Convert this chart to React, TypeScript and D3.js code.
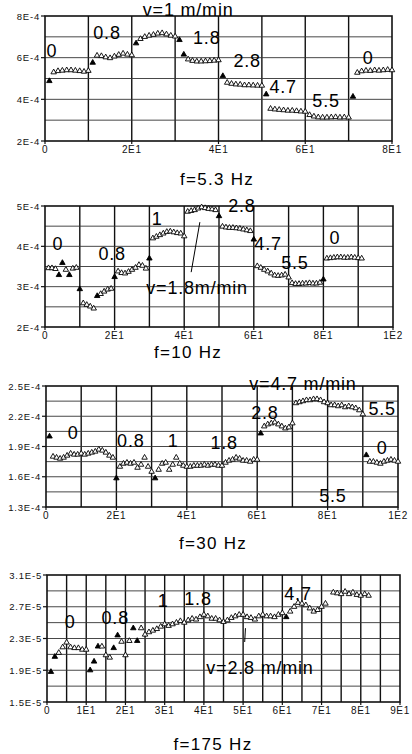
import React, { useEffect, useRef } from "react";
import * as d3 from "d3";

// readings are one per x step, starting at x = 1; null = no point
// f=5.3 Hz, units of 1E-4
const p1Vals = [
  4.88, 5.3, 5.36, 5.38, 5.4, 5.4, 5.38, 5.36, 5.33, 5.37,
  5.76, 6.1, 6.08, 6.02, 5.98, 6.06, 6.14, 6.2, 6.15, 6.12,
  6.69, 6.9, 7.0, 7.06, 7.1, 7.16, 7.18, 7.12, 7.06, 7.02,
  6.85, 6.15, 5.92, 5.85, 5.82, 5.82, 5.83, 5.84, 5.86, 5.88,
  5.12, 4.8, 4.75, 4.72, 4.71, 4.68, 4.68, 4.67, 4.66, 4.66,
  4.24, 3.55, 3.52, 3.5, 3.48, 3.46, 3.46, 3.44, 3.42, 3.41,
  3.25, 3.18, 3.14, 3.13, 3.13, 3.14, 3.15, 3.13, 3.14, 3.13,
  4.13, 5.28, 5.35, 5.38, 5.37, 5.4, 5.38, 5.4, 5.42, 5.4,
];
const p1Filled = [1, 11, 21, 31, 32, 41, 51, 71];
const p1XTicks = [0, 20, 40, 60, 80];
const p1XText = ["0", "2E1", "4E1", "6E1", "8E1"];
const p1YTicks = [2, 4, 6, 8];
const p1YText = ["2E-4", "4E-4", "6E-4", "8E-4"];
const p1Notes: [string, number, number][] = [
  ["0", 1.6, 6.05], ["0.8", 14.3, 6.9], ["1.8", 37.3, 6.66], ["2.8", 46.6, 5.56],
  ["4.7", 54.9, 4.31], ["5.5", 64.8, 3.64], ["0", 74.5, 5.7], ["v=1 m/min", 33, 8.0],
];

// f=10 Hz, units of 1E-4
const p2Vals = [
  3.46, 3.46, 3.44, 3.29, 3.59, 3.42, 3.29, 3.45, 3.47,
  2.94, 2.59, 2.55, 2.51, 2.46,
  2.77, 2.82, 2.88, 2.93, 2.95,
  3.24, 3.38, 3.34, 3.33, 3.37, 3.42, 3.47, 3.54, 3.52, 3.45,
  3.7, 4.2, 4.24, 4.28, 4.32, 4.36, 4.37, 4.35, 4.33, 4.32, 4.25,
  4.86, 4.88, 4.9, 4.94, 4.97, 4.95, 4.93, 4.92, 4.9, 4.75,
  4.49, 4.47, 4.46, 4.46, 4.45, 4.44, 4.42, 4.4, 4.38, 4.17,
  3.51, 3.47, 3.42, 3.38, 3.33, 3.28, 3.27, 3.28, 3.3, 3.23,
  3.09, 3.07, 3.07, 3.08, 3.08, 3.09, 3.08, 3.08, 3.1, 3.18,
  3.7, 3.71, 3.72, 3.73, 3.73, 3.72, 3.72, 3.73, 3.72, 3.71, 3.7,
];
const p2Filled = [4, 5, 7, 10, 15, 20, 30, 50, 60, 80];
const p2XTicks = [0, 20, 40, 60, 80, 100];
const p2XText = ["0", "2E1", "4E1", "6E1", "8E1", "1E2"];
const p2YTicks = [2, 3, 4, 5];
const p2YText = ["2E-4", "3E-4", "4E-4", "5E-4"];
const p2Notes: [string, number, number][] = [
  ["0", 3.7, 3.91], ["0.8", 19.3, 3.67], ["1", 32.2, 4.53], ["2.8", 56.6, 4.86],
  ["4.7", 64.1, 3.91], ["5.5", 71.8, 3.44], ["0", 83.3, 4.06], ["v=1.8m/min", 43.7, 2.82],
];
const p2Pointer = [[44.5, 4.6], [42, 3.36]];

// f=30 Hz, units of 1E-4
const p3Vals = [
  2.0, 1.8, 1.79, 1.78, 1.79, 1.81, 1.83, 1.82, 1.82, 1.83,
  1.82, 1.83, 1.84, 1.85, 1.87, 1.86, 1.84, 1.81, 1.79, 1.585,
  1.7, 1.73, 1.74, 1.73, 1.74, 1.69, 1.72, 1.79, 1.7, 1.65,
  1.585, 1.67, 1.73, 1.74, 1.67, 1.72, 1.79, 1.73, 1.71, 1.7,
  1.7, 1.71, 1.71, 1.71, 1.72, 1.71, 1.72, 1.72, 1.71, 1.71,
  1.74, 1.76, 1.77, 1.79, 1.78, 1.76, 1.76, 1.75, 1.77, 1.77,
  2.03, 2.1, 2.12, 2.13, 2.14, 2.12, 2.1, 2.08, 2.09, 2.13,
  2.33, 2.34, 2.35, 2.36, 2.36, 2.37, 2.37, 2.36, 2.34, 2.33,
  2.31, 2.31, 2.3, 2.31, 2.29, 2.3, 2.29, 2.28, 2.26, 2.22,
  1.815, 1.75, 1.75, 1.74, 1.73, 1.75, 1.76, 1.77, 1.76, 1.75,
];
const p3Filled = [1, 20, 31, 61, 91];
const p3XTicks = [0, 20, 40, 60, 80, 100];
const p3XText = ["0", "2E1", "4E1", "6E1", "8E1", "1E2"];
const p3YTicks = [1.3, 1.6, 1.9, 2.2, 2.5];
const p3YText = ["1.3E-4", "1.6E-4", "1.9E-4", "2.2E-4", "2.5E-4"];
const p3Notes: [string, number, number][] = [
  ["v=4.7 m/min", 73, 2.465], ["2.8", 62.2, 2.172], ["5.5", 95.5, 2.212], ["0", 7.7, 1.972],
  ["0.8", 24.1, 1.897], ["1", 36.1, 1.897], ["1.8", 50.6, 1.877], ["0", 95.5, 1.827],
  ["5.5", 81.5, 1.352],
];

// f=175 Hz, units of 1E-5
const p4Vals = [
  1.88, 2.07, 2.12, 2.19, 2.25, 2.19, 2.18, 2.18, 2.16, 2.16,
  1.9, 2.01, 2.2, 2.2, 2.09, 2.06, 2.18, 2.34, 2.26, 2.09,
  2.27, 2.43, 2.27, 2.43, 2.35, 2.38, 2.4, 2.42, 2.45, 2.48,
  2.46, 2.48, 2.5, 2.52, 2.5, 2.53, 2.55, 2.54, 2.57, 2.6,
  2.58, 2.55, 2.55, 2.53, 2.51, 2.53, 2.56, 2.58, 2.6, 2.6,
  2.57, 2.56, 2.54, 2.58, 2.6, 2.58, 2.58, 2.57, 2.6, 2.62,
  2.57, 2.64, 2.7, 2.75, 2.74, 2.72, 2.68, 2.64, 2.66, 2.7,
  2.74, null, 2.88, 2.87, 2.86, 2.89, 2.86, 2.88, 2.85, 2.84,
  2.86, 2.84,
];
const p4Filled = [1, 2, 11, 12, 13, 17, 18, 22, 23, 61];
const p4XTicks = [0, 10, 20, 30, 40, 50, 60, 70, 80, 90];
const p4XText = ["0", "1E1", "2E1", "3E1", "4E1", "5E1", "6E1", "7E1", "8E1", "9E1"];
const p4YTicks = [1.5, 1.9, 2.3, 2.7, 3.1];
const p4YText = ["1.5E-5", "1.9E-5", "2.3E-5", "2.7E-5", "3.1E-5"];
const p4Notes: [string, number, number][] = [
  ["0", 5.9, 2.435], ["0.8", 17.4, 2.485], ["1", 29.6, 2.7], ["1.8", 38.5, 2.725],
  ["4.7", 64, 2.79], ["v=2.8 m/min", 54.3, 1.855],
];
const p4Pointer = [[50.6, 2.43], [50.4, 2.256]];

const NOTE_FONT = "'Liberation Sans', Arial, sans-serif";

const panels = [
  { vals: p1Vals, filled: p1Filled, xTicks: p1XTicks, xText: p1XText, yTicks: p1YTicks, yText: p1YText,
    notes: p1Notes, pointer: null, left: 45, right: 392, top: 16, bottom: 141, xMax: 80, yMin: 2, yMax: 8,
    xStep: 10, yStep: 1, caption: "f=5.3 Hz", capX: 217, capY: 185 },
  { vals: p2Vals, filled: p2Filled, xTicks: p2XTicks, xText: p2XText, yTicks: p2YTicks, yText: p2YText,
    notes: p2Notes, pointer: p2Pointer, left: 45, right: 393, top: 206, bottom: 327, xMax: 100, yMin: 2, yMax: 5,
    xStep: 10, yStep: 0.5, caption: "f=10 Hz", capX: 188, capY: 358 },
  { vals: p3Vals, filled: p3Filled, xTicks: p3XTicks, xText: p3XText, yTicks: p3YTicks, yText: p3YText,
    notes: p3Notes, pointer: null, left: 46, right: 398, top: 386, bottom: 507, xMax: 100, yMin: 1.3, yMax: 2.5,
    xStep: 10, yStep: 0.15, caption: "f=30 Hz", capX: 213, capY: 549 },
  { vals: p4Vals, filled: p4Filled, xTicks: p4XTicks, xText: p4XText, yTicks: p4YTicks, yText: p4YText,
    notes: p4Notes, pointer: p4Pointer, left: 47, right: 400, top: 575, bottom: 702, xMax: 90, yMin: 1.5, yMax: 3.1,
    xStep: 5, yStep: 0.2, caption: "f=175 Hz", capX: 213, capY: 750 },
];

function drawPanel(svg: any, p: any) {
  const x = d3.scaleLinear().domain([0, p.xMax]).range([p.left, p.right]);
  const y = d3.scaleLinear().domain([p.yMin, p.yMax]).range([p.bottom, p.top]);
  const g = svg.append("g");

  // grid, vertical lines are heavier in the print
  const nx = Math.round(p.xMax / p.xStep);
  const ny = Math.round((p.yMax - p.yMin) / p.yStep);
  g.selectAll(".vg")
    .data(d3.range(1, nx))
    .enter()
    .append("line")
    .attr("x1", (i: number) => x(i * p.xStep))
    .attr("x2", (i: number) => x(i * p.xStep))
    .attr("y1", p.top)
    .attr("y2", p.bottom)
    .attr("stroke", "#111")
    .attr("stroke-width", 1.4);
  g.selectAll(".hg")
    .data(d3.range(1, ny))
    .enter()
    .append("line")
    .attr("x1", p.left)
    .attr("x2", p.right)
    .attr("y1", (i: number) => y(p.yMin + i * p.yStep))
    .attr("y2", (i: number) => y(p.yMin + i * p.yStep))
    .attr("stroke", "#333")
    .attr("stroke-width", 0.9);
  g.append("rect")
    .attr("x", p.left)
    .attr("y", p.top)
    .attr("width", p.right - p.left)
    .attr("height", p.bottom - p.top)
    .attr("fill", "none")
    .attr("stroke", "#111")
    .attr("stroke-width", 1.6);

  // ticks and labels
  g.selectAll(".yt")
    .data(p.yTicks)
    .enter()
    .append("line")
    .attr("x1", p.left - 4)
    .attr("x2", p.left)
    .attr("y1", (d: number) => y(d))
    .attr("y2", (d: number) => y(d))
    .attr("stroke", "#111")
    .attr("stroke-width", 1.2);
  g.selectAll(".ytl")
    .data(p.yTicks)
    .enter()
    .append("text")
    .attr("x", p.left - 5)
    .attr("y", (d: number) => y(d) + 3.5)
    .attr("text-anchor", "end")
    .attr("font-family", NOTE_FONT)
    .attr("font-size", 9.5)
    .attr("letter-spacing", 0.8)
    .attr("fill", "#111")
    .text((d: number, i: number) => p.yText[i]);
  g.selectAll(".xt")
    .data(p.xTicks)
    .enter()
    .append("line")
    .attr("x1", (d: number) => x(d))
    .attr("x2", (d: number) => x(d))
    .attr("y1", p.bottom)
    .attr("y2", p.bottom + 3)
    .attr("stroke", "#111")
    .attr("stroke-width", 1.2);
  g.selectAll(".xtl")
    .data(p.xTicks)
    .enter()
    .append("text")
    .attr("x", (d: number) => x(d))
    .attr("y", p.bottom + 12)
    .attr("text-anchor", "middle")
    .attr("font-family", NOTE_FONT)
    .attr("font-size", 10)
    .attr("letter-spacing", 0.6)
    .attr("fill", "#111")
    .text((d: number, i: number) => p.xText[i]);

  // readings
  const pts = p.vals
    .map((v: number | null, i: number) => ({ x: i + 1, v, filled: p.filled.includes(i + 1) }))
    .filter((d: any) => d.v !== null);
  const tri = d3.symbol().type(d3.symbolTriangle).size(13);
  g.selectAll(".pt")
    .data(pts)
    .enter()
    .append("path")
    .attr("d", tri)
    .attr("transform", (d: any) => "translate(" + x(d.x) + "," + y(d.v) + ")")
    .attr("fill", (d: any) => (d.filled ? "#000" : "#fff"))
    .attr("stroke", "#000")
    .attr("stroke-width", 0.9);

  // speed annotations
  g.selectAll(".note")
    .data(p.notes)
    .enter()
    .append("text")
    .attr("x", (d: any) => x(d[1]))
    .attr("y", (d: any) => y(d[2]))
    .attr("text-anchor", "middle")
    .attr("font-family", NOTE_FONT)
    .attr("font-size", 18)
    .attr("letter-spacing", 0.8)
    .attr("fill", "#000")
    .text((d: any) => d[0]);
  if (p.pointer) {
    g.append("path")
      .attr("d", d3.line()(p.pointer.map((d: number[]) => [x(d[0]), y(d[1])])))
      .attr("stroke", "#000")
      .attr("stroke-width", 1);
  }

  svg.append("text")
    .attr("x", p.capX)
    .attr("y", p.capY)
    .attr("text-anchor", "middle")
    .attr("font-family", NOTE_FONT)
    .attr("font-size", 17)
    .attr("letter-spacing", 1.3)
    .attr("fill", "#000")
    .text(p.caption);
}

export default function App() {
  const ref = useRef<SVGSVGElement>(null);
  useEffect(() => {
    const svg = d3.select(ref.current);
    svg.selectAll("*").remove();
    svg.append("rect").attr("width", 412).attr("height", 754).attr("fill", "#fff");
    panels.forEach((p) => drawPanel(svg, p));
  }, []);
  return (
    <svg
      ref={ref}
      width={412}
      height={754}
      style={{ position: "absolute", left: 0, top: 0, display: "block" }}
    />
  );
}
